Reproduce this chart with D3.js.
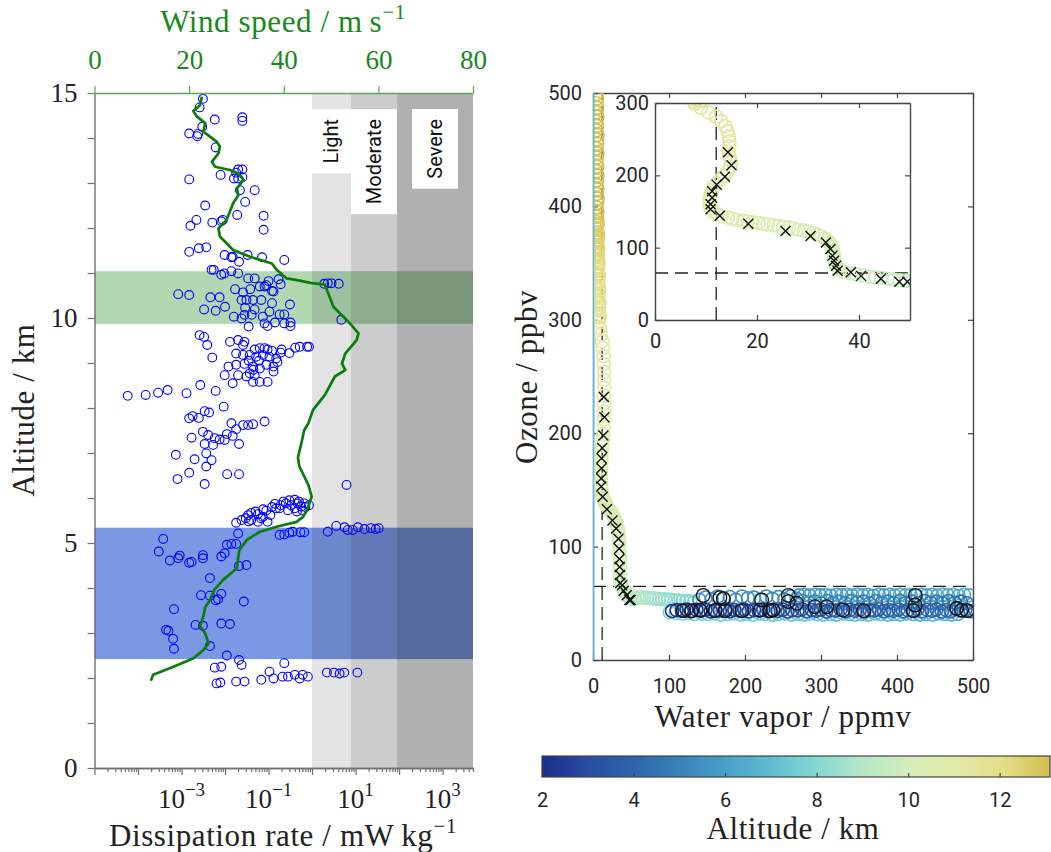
<!DOCTYPE html>
<html>
<head>
<meta charset="utf-8">
<script src="https://cdn.jsdelivr.net/npm/d3@7"></script>
<style>
  body { margin: 0; background: #fff; }
  svg { display: block; }
</style>
</head>
<body>
<svg id="chart" width="1051" height="852"></svg>
<script>
// ---------- left panel: dissipation rate + wind speed ----------
const windTicks = [0, 20, 40, 60, 80];
const altTicks = [0, 1, 2, 3, 4, 5, 6, 7, 8, 9, 10, 11, 12, 13, 14, 15];
const altLabelled = [0, 5, 10, 15];
const epsDecades = [1e-5, 1e-4, 1e-3, 1e-2, 1e-1, 1, 10, 100, 1000];
const epsLabelExp = [-3, -1, 1, 3];

const turbNames = ["Light", "Moderate", "Severe"];
const turbLo = [1, 7.8, 90];
const turbHi = [7.8, 90, 5000];

const layerNames = ["tropopause", "lower"];
const layerLo = [9.87, 2.42];
const layerHi = [11.04, 5.34];

// [wind speed m/s, altitude km]
const windProfile = [
  [11.9,1.94],[12.4,2.07],[16.7,2.25],[20.9,2.44],[23.0,2.62],[24.1,2.77],[23.4,2.99],[22.3,3.16],
  [23.0,3.36],[23.4,3.58],[24.4,3.73],[25.3,3.96],[27.2,4.18],[30.1,4.44],[30.4,4.7],[30.6,4.84],
  [32.2,5.07],[35.0,5.25],[38.5,5.36],[42.7,5.47],[44.1,5.58],[45.2,5.81],[45.9,6.03],[45.2,6.29],
  [43.3,6.7],[43.0,6.9],[43.4,7.07],[43.9,7.3],[44.3,7.5],[45.2,7.66],[46.2,7.96],[48.7,8.29],
  [50.8,8.7],[53.0,8.84],[52.3,8.99],[53.0,9.21],[55.4,9.51],[55.8,9.66],[54.0,9.88],[50.5,10.25],
  [49.4,10.55],[48.7,10.74],[45.6,10.78],[43.4,10.83],[40.6,10.88],[38.5,11.07],[37.5,11.21],[32.9,11.36],
  [29.3,11.51],[26.5,11.81],[26.2,11.99],[27.9,12.18],[28.6,12.36],[29.3,12.55],[30.4,12.73],[30.1,12.88],
  [31.5,13.07],[30.4,13.21],[28.6,13.29],[25.5,13.36],[24.8,13.47],[26.2,13.66],[26.5,13.81],[25.8,13.92],
  [23.0,14.14],[23.4,14.33],[21.6,14.48],[20.9,14.6],[22.3,14.73],[22.7,14.92]
];

// [dissipation rate mW/kg, altitude km]
const dissipation = [
  [3.1e-3,14.87],[2.6e-3,14.68],[5.8e-3,14.41],[0.025,14.46],[0.025,14.38],[1.5e-3,14.1],[2.4e-3,14.09],
  [2.3e-3,14.04],[3.0e-3,14.25],[6.1e-3,13.79],[1.5e-3,13.08],[7.9e-3,13.18],[0.02,13.3],[0.025,13.3],
  [0.018,13.23],[0.016,13.1],[0.02,13.1],[0.025,13.13],[0.022,12.84],[0.048,12.84],[0.029,12.58],
  [3.5e-3,12.5],[0.019,12.29],[0.077,12.27],[0.077,11.96],[2.2e-3,12.18],[1.6e-3,12.05],[5.1e-3,12.12],
  [8.2e-3,12.15],[8.9e-3,12.18],[1.5e-3,11.47],[2.5e-3,11.55],[3.7e-3,11.57],[9.8e-3,11.4],[0.014,11.35],
  [0.015,11.36],[0.021,11.25],[0.033,11.4],[0.071,11.35],[0.23,11.29],[4.9e-3,11.07],[5.5e-3,11.07],
  [8.2e-3,10.96],[9.6e-3,10.99],[0.014,11.04],[0.02,10.99],[0.034,10.88],[0.048,10.88],[0.1,10.82],
  [0.089,10.73],[0.17,10.86],[0.19,10.75],[8.4e-4,10.53],[1.5e-3,10.51],[4.6e-3,10.46],[7.5e-3,10.46],
  [0.017,10.64],[0.026,10.57],[0.038,10.64],[0.063,10.7],[0.081,10.7],[0.12,10.6],[0.13,10.59],
  [0.024,10.4],[0.031,10.4],[0.044,10.4],[0.068,10.4],[0.12,10.33],[0.31,10.3],[3.3e-3,10.19],
  [6.1e-3,10.16],[0.01,10.25],[0.029,10.23],[0.048,10.19],[0.105,10.14],[0.18,10.08],[0.23,10.08],
  [0.016,10.03],[0.024,9.99],[0.028,10.07],[0.041,10.07],[0.074,10.03],[0.081,9.88],[0.095,9.82],
  [0.14,9.9],[0.23,9.88],[0.32,9.9],[0.32,9.82],[0.035,9.81],[2.6e-3,9.62],[3.3e-3,9.58],[3.9e-3,9.4],
  [5.1e-3,9.12],[0.013,9.47],[0.02,9.51],[0.026,9.4],[0.028,9.47],[0.048,9.3],[0.063,9.33],[0.081,9.33],
  [0.095,9.3],[0.12,9.27],[0.2,9.3],[0.41,9.34],[0.77,9.36],[0.52,9.36],[0.018,9.21],[0.026,9.18],
  [0.037,9.18],[0.052,9.14],[0.074,9.18],[0.105,9.14],[0.19,9.23],[0.035,9.05],[0.06,9.05],[0.15,9.1],
  [0.3,9.22],[0.045,8.85],[0.16,9.02],[0.012,8.92],[0.018,8.96],[0.028,8.98],[0.044,8.92],[0.063,8.88],
  [0.089,8.96],[0.13,8.92],[9.8e-3,8.73],[0.02,8.73],[0.037,8.77],[0.048,8.73],[0.015,8.55],[0.031,8.7],
  [0.044,8.58],[0.063,8.58],[0.095,8.58],[0.13,8.81],[5.8e-5,8.27],[1.5e-4,8.29],[2.9e-4,8.34],
  [4.8e-4,8.4],[1.3e-3,8.33],[2.7e-3,8.51],[6.1e-3,8.38],[9.3e-3,8.03],[1.5e-3,7.77],[1.8e-3,7.82],
  [2.5e-3,7.78],[3.4e-3,7.93],[4.3e-3,7.9],[0.014,7.66],[0.018,7.53],[0.026,7.62],[0.034,7.62],
  [0.044,7.64],[0.081,7.7],[3.1e-3,7.47],[4.1e-3,7.4],[5.8e-3,7.33],[7.5e-3,7.3],[9.8e-3,7.29],
  [0.011,7.42],[0.015,7.38],[1.7e-3,7.34],[3.4e-3,7.2],[5.3e-3,7.18],[0.021,7.2],[7.4e-4,6.96],
  [3.7e-3,6.99],[2.0e-3,6.86],[4.9e-3,6.84],[3.7e-3,6.7],[8.1e-4,6.42],[1.5e-3,6.56],[3.4e-3,6.31],
  [0.0112,6.53],[0.021,6.53],[6.2,6.29],
  [0.018,5.45],[0.024,5.51],[0.034,5.62],[0.04,5.67],[0.057,5.64],[0.074,5.58],[0.095,5.47],[0.11,5.62],
  [0.15,5.77],[0.19,5.84],[0.25,5.88],[0.33,5.84],[0.4,5.96],[0.47,5.88],[0.56,5.81],[0.66,5.88],
  [0.85,5.84],[0.04,5.51],[0.057,5.47],[0.067,5.55],[0.089,5.72],[0.14,5.87],[0.18,5.77],[0.28,5.73],
  [0.4,5.77],[0.61,5.72],[0.03,5.55],[0.05,5.7],[0.075,5.75],[0.12,5.8],[0.22,5.92],[0.3,5.95],
  [0.5,5.92],[0.7,5.8],[0.45,5.7],[0.035,5.48],
  [0.18,5.18],[0.23,5.19],[0.3,5.23],[0.36,5.25],[0.54,5.24],[0.66,5.24],
  [2.3,5.25],[3.6,5.38],[5.6,5.35],[6.6,5.29],[8.6,5.29],[11.3,5.35],[16,5.31],[22.5,5.33],[29,5.31],[34,5.33],
  [3.8e-4,5.09],[3.0e-4,4.81],[5.4e-4,4.61],[8.4e-4,4.66],[9.1e-4,4.72],[1.5e-3,4.56],[1.7e-3,4.58],
  [3.1e-3,4.73],[3.1e-3,4.66],[8.2e-3,4.7],[9.8e-3,4.77],[0.011,4.96],[0.014,4.98],[0.018,4.98],
  [0.02,5.21],[0.021,4.49],[0.031,4.51],[4.5e-3,4.22],[2.8e-3,3.84],[4.5e-3,3.83],[6.1e-3,3.73],
  [6.9e-3,3.75],[8.2e-3,3.87],[0.027,3.7],[6.7e-4,3.53],[2.1e-3,3.18],[3.1e-3,3.16],[8.2e-3,3.21],
  [0.013,3.2],[4.4e-4,3.07],[5e-4,3.05],[6.4e-4,2.87],[6.7e-4,2.65],[4.5e-3,2.71],[0.011,2.5],
  [0.021,2.4],[0.024,2.29],[5.8e-3,2.23],[8.2e-3,2.25],[6.4e-3,1.88],[7.8e-3,1.9],[0.018,1.92],
  [0.028,1.92],[0.068,1.96],[0.105,2.14],[0.13,1.99],[0.21,2.03],[0.23,2.33],[0.28,2.03],[0.4,2.07],
  [0.52,1.99],[0.61,2.07],[0.8,2.03],[2.2,2.12],[3.2,2.12],[4.3,2.1],[5.5,2.12],[11,2.12],
  [1.9,10.76],[2.3,10.77],[2.8,10.77],[4.1,10.76],[4.7,9.96],[0.85,9.36]
];

// ---------- right panel: ozone vs water vapour, coloured by altitude ----------
const h2oTicks = [0, 100, 200, 300, 400, 500];
const o3Ticks = [0, 100, 200, 300, 400, 500];
const insetH2oTicks = [0, 20, 40];
const insetO3Ticks = [0, 100, 200, 300];
const cbarTicks = [2, 4, 6, 8, 10, 12];
const h2oThreshold = 12;
const o3Threshold = 65;

// [altitude km, water vapour ppmv, ozone ppbv]
const stratSamples = [
  [14.9,4.6,499],[14.83,5.1,495],[14.76,4.3,491],[14.69,5.4,487],[14.62,4.8,483],[14.55,5.6,479],
  [14.48,4.5,475],[14.41,5.2,471],[14.34,4.4,467],[14.27,5.7,463],[14.2,4.9,459],[14.13,5.3,455],
  [14.06,4.5,451],[13.99,5.8,447],[13.92,5.0,443],[13.85,4.7,439],[13.78,5.5,435],[13.71,4.9,431],
  [13.64,5.9,427],[13.57,5.2,423],[13.5,4.6,419],[13.43,5.6,415],[13.36,5.0,411],[13.29,6.0,407],
  [13.22,5.3,403],[13.15,4.8,399],[13.08,5.7,395],[13.01,5.1,391],[12.94,5.8,388]
];
const upperTropSamples = [
  [12.8,5.2,386],[12.77,6.1,384],[12.75,5.6,383],[12.72,4.6,381],[12.7,5.0,380],[12.65,5.8,377],
  [12.62,6.6,375],[12.6,5.4,374],[12.55,6.0,371],[12.52,4.9,369],[12.5,5.5,368],[12.45,6.1,365],
  [12.42,7.0,363],[12.4,5.7,362],[12.35,6.3,359],[12.32,5.1,357],[12.3,5.9,356],[12.25,6.4,353],
  [12.22,7.3,351],[12.2,6.0,350],[12.15,6.6,347],[12.12,5.4,345],[12.1,6.2,344],[12.05,6.8,341],
  [12.02,7.7,339],[12.0,6.4,338],[11.95,7.0,335],[11.92,5.9,333],[11.9,6.7,332],[11.85,7.2,329],
  [11.82,8.2,327],[11.8,6.9,326],[11.75,7.4,323],[11.72,6.3,321],[11.7,7.1,320],[11.65,7.6,317],
  [11.62,8.6,315],[11.6,7.3,314],[11.55,7.8,311],[11.52,6.8,309],[11.5,7.5,308],[11.45,8.0,305],
  [11.42,9.0,303],[11.4,7.7,302]
];
const tropopauseSamples = [
  [11.35,7.8,299],[11.32,9.0,293],[11.3,10.5,287],[11.27,12.0,281],[11.25,13.0,275],[11.22,13.8,268],
  [11.2,14.2,261],[11.18,14.5,254],[11.15,14.6,247],[11.12,14.6,240],[11.1,14.4,233],[11.08,14.6,226],
  [11.05,14.9,219],[11.03,14.8,212],[11.0,14.2,205],[10.98,13.5,199],[10.96,12.8,194],[10.94,12.0,189],
  [10.92,11.4,184],[10.9,11.1,179],[10.88,10.9,174],[10.86,10.8,169],[10.84,10.7,164],[10.82,10.8,159],
  [10.8,10.9,154],[10.78,11.3,150],[10.76,12.3,146],[10.74,13.1,143.5],[10.72,14.3,141.5],[10.7,15.2,140],
  [10.68,16.1,138.5],[10.66,17.3,137],[10.64,18.2,136],[10.62,19.1,135],[10.6,20.3,134],[10.58,21.2,133],
  [10.56,22.1,132],[10.54,23.3,131],[10.52,24.2,130],[10.5,25.1,129],[10.48,26.3,128],[10.46,27.2,126.5],
  [10.44,28.1,125],[10.42,29.2,123.5],[10.4,30.1,122],[10.38,31.0,120],[10.36,31.8,118],[10.34,32.6,115.5],
  [10.32,33.3,113],[10.3,33.8,110],[10.27,34.2,107],[10.24,34.5,104],[10.21,34.7,100],[10.18,34.9,96],
  [10.15,35.0,92],[10.12,35.1,88],[10.09,35.2,84],[10.06,35.3,80],[10.03,35.5,76],[10.0,35.8,72],
  [9.96,36.3,69],[9.92,37.2,66.5],[9.88,38.3,64.5],[9.84,39.5,63],[9.8,40.8,61.5],[9.75,42.0,60],
  [9.7,43.2,59],[9.65,44.4,58],[9.6,45.6,57],[9.55,46.8,56],[9.5,48.0,55],[9.45,49.2,54.5],[9.4,50.5,54]
];
const transitionSamples = [
  [9.35,52,54],[9.28,55,54.5],[9.2,58,55],[9.12,61,55],[9.05,64,55.5],[8.98,67,55],[8.9,71,55],
  [8.82,75,54.5],[8.75,79,54.5],[8.68,83,54],[8.6,87,54],[8.52,91,53.5],[8.45,95,53.5],[8.38,99,53],
  [8.3,103,53],[8.23,108,52.5],[8.16,113,52.5],[8.1,118,52],[8.04,123,52],[7.98,128,51.5],[7.93,133,51]
];
const cyanSamples = [
  [7.8,101,42],[7.77,109,41.5],[7.74,118,41],[7.71,126,41.5],[7.68,134,40.5],[7.65,143,41],[7.62,151,40.5],
  [7.59,160,41],[7.56,168,40],[7.53,177,40.5],[7.5,185,41],[7.47,194,40],[7.44,202,40.5],[7.41,210,40],
  [7.38,219,41],[7.35,227,40.5],[7.32,236,40],[7.29,244,40.5],[7.26,253,41],[7.23,261,40],[7.2,270,40.5],
  [7.17,278,40],[7.14,286,41],[7.11,295,40.5],[7.08,303,40],[7.05,312,40.5],[7.02,320,40],[6.99,329,41],
  [6.96,337,40.5],[6.93,345,40],[6.9,354,40.5],[6.87,362,40],[6.84,371,41],[6.81,379,40.5],[6.78,388,40],
  [6.75,396,40.5],[6.72,404,40],[6.69,413,41],[6.66,421,40.5],[6.63,430,40],[6.6,438,40.5],[6.57,447,40],
  [6.54,455,41],[6.51,463,40.5],[6.48,472,40],[6.45,480,40.5]
];
const ringSamples = [
  [6.42,495,57],[6.41,488,57.5],[6.39,481,56.5],[6.38,474,57.5],[6.36,467,57],[6.35,460,57.5],[6.33,453,56.8],
  [6.32,446,57.4],[6.3,439,57],[6.29,432,57.6],[6.27,425,56.7],[6.26,418,57.3],[6.24,411,57],[6.23,404,57.5],
  [6.21,397,56.8],[6.2,390,57.4],[6.18,383,57],[6.17,376,57.6],[6.15,369,56.7],[6.14,362,57.3],[6.12,355,57],
  [6.11,348,57.5],[6.09,341,56.8],[6.08,334,57.4],[6.06,327,57],[6.05,320,57.6],[6.03,313,56.7],[6.02,306,57.3],
  [6.0,299,57],[5.99,292,57.5],[5.97,285,56.8],[5.96,278,57.4],[5.94,271,57]
];
const midSamples = [
  [5.6,140,53],[5.58,148,55],[5.55,156,53.5],[5.53,164,56],[5.5,172,54],[5.48,180,55.5],[5.45,188,53],
  [5.43,196,56],[5.4,204,54.5],[5.38,212,55],[5.35,220,53],[5.33,228,56],[5.3,236,54],[5.28,244,55.5],
  [5.25,252,53.5],[5.23,260,56],[5.2,268,54],[5.17,276,52],[5.14,284,50.5],[5.11,292,51.5],[5.08,300,50],
  [5.05,308,52],[5.02,316,50.5],[4.99,324,51.5],[4.96,332,50],[4.93,340,52],[4.9,348,50.5],[4.87,356,51.5],
  [4.84,364,50],[4.81,372,52],[4.78,380,50.5],[4.75,388,51.5],[4.72,396,50],[4.69,404,52],[4.66,412,50.5],
  [4.63,420,51.5],[4.6,428,50],[4.57,436,52],[4.54,444,50.5],[4.51,452,51.5],[4.48,460,50],[4.45,468,52],
  [4.42,476,50.5],[4.39,484,51.5],[4.36,492,50]
];
const lowSamples = [
  [4.3,503,44],[4.26,497,43],[4.22,490,44.5],[4.18,484,43.5],[4.15,478,45],[4.11,471,43],[4.07,465,44],
  [4.04,459,42.8],[4.0,452,44.6],[3.96,446,43.4],[3.93,440,44.2],[3.89,433,43],[3.85,427,44.8],[3.82,421,43.5],
  [3.78,414,44],[3.74,408,42.9],[3.71,402,44.5],[3.67,395,43.3],[3.63,389,44.1],[3.6,383,43],[3.56,376,44.7],
  [3.52,370,43.6],[3.49,364,44],[3.45,357,42.8],[3.41,351,44.4],[3.38,345,43.3],[3.34,338,44.2],[3.3,332,43],
  [3.27,326,44.6],[3.23,319,43.5],[3.19,313,44],[3.16,307,42.9],[3.12,300,44.5],[3.08,294,43.4],[3.05,288,44.1],
  [3.01,281,43],[2.97,275,44.8],[2.94,269,43.6],[2.9,262,44],[2.86,256,42.8],[2.83,250,44.4],[2.79,243,43.2],
  [2.75,237,44.2],[2.72,231,43],[2.68,224,44.6],[2.64,218,43.5],[2.61,212,44],[2.57,205,42.9],[2.53,199,44.5],
  [2.5,193,43.4],[2.46,186,44.1],[2.42,180,43],[2.39,174,44.7],[2.35,167,43.6],[2.31,161,44],[2.28,155,42.8],
  [2.24,148,44.4],[2.2,142,43.3],[2.17,136,44.2],[2.13,129,43],[2.09,123,44.5],[2.06,117,43.5],[2.03,110,44],
  [2.0,104,43.2]
];
// turbulent samples inside the marked layers: [water vapour, ozone]
const crossMarks = [
  [14.3,232],[15.0,214],[13.7,198],[12.1,187],[11.2,178],[11.2,169],[10.9,160],[10.9,153],[12.7,144],
  [18.3,133],[25.6,123],[30.5,116],[33.5,107],[34.4,98],[34.8,89],[35.1,82],[35.5,75],[35.8,68],
  [38.4,66],[40.4,61],[44.3,57],[47.9,53],[49.5,53]
];
const ringMarks = [
  [119,43.5],[130,43.5],[141,44],[145,57],[160.5,43.5],[167,55],[171.5,54],[174,43.5],[196,43.5],
  [220,44],[222,53],[233,43.5],[237,44],[257,57],[257,51.5],[268,50],[292,47],[307.5,47],[329,44],
  [356,43.5],[424,57],[424,48.5],[421.5,43.5],[478.5,45.6],[485,44],[492,43.5]
];
const edgeTrace = [[0.3, 0], [0.3, 500]];

// colour map for altitude
const cmapKnots = [2, 3, 4, 5, 6, 7, 8, 9, 10, 11, 12, 13.1];
const cmapColors = ["#1d2d8e","#294ca0","#2e64ab","#3782b9","#46a0c8","#5fbed2",
                    "#85d8d2","#b6e7c8","#d4ecbc","#e2eaa8","#e4df8a","#d3bf4f"];
const altColor = d3.scaleLinear().domain(cmapKnots).range(cmapColors).clamp(true);

const serif = "'Liberation Serif', 'Times New Roman', serif";
const sans = "Roboto, 'Liberation Sans', Arial, sans-serif";
const titleSize = 31, titleSpacing = 0.6;

const svg = d3.select("#chart");
const defs = svg.append("defs");

function styleAxis(g, color, font, size, textColor) {
  g.attr("font-family", font).attr("font-size", size);
  g.select(".domain").attr("stroke", color).attr("stroke-width", 1.4);
  g.selectAll(".tick line").attr("stroke", color).attr("stroke-width", 1.2);
  g.selectAll(".tick text").attr("fill", textColor);
}

function title(parent, txt, sup, color) {
  const t = parent.append("text").attr("text-anchor", "middle")
    .attr("font-family", serif).attr("font-size", titleSize)
    .attr("letter-spacing", titleSpacing).attr("fill", color);
  t.append("tspan").text(txt);
  if (sup) t.append("tspan").text(sup).attr("font-size", 21).attr("dy", -13);
  return t;
}

// ================= LEFT PANEL =================
const xEps = d3.scaleLog().domain([1e-5, 5e3]).range([94.5, 473]);
const xWind = d3.scaleLinear().domain([0, 80]).range([94.5, 473]);
const yAlt = d3.scaleLinear().domain([0, 15]).range([768, 93]);

const left = svg.append("g");
const layerFill = ["#b2d8b2", "#7b98e4"];
left.selectAll("rect.layer").data(layerNames).join("rect")
  .attr("class", "layer")
  .attr("x", xEps(1e-5)).attr("width", xEps(5e3) - xEps(1e-5))
  .attr("y", (d, i) => yAlt(layerHi[i]))
  .attr("height", (d, i) => yAlt(layerLo[i]) - yAlt(layerHi[i]))
  .attr("fill", (d, i) => layerFill[i]);

const turbOpacity = [0.11, 0.2, 0.31];
left.selectAll("rect.turb").data(turbNames).join("rect")
  .attr("class", "turb")
  .attr("x", (d, i) => xEps(turbLo[i]))
  .attr("width", (d, i) => xEps(turbHi[i]) - xEps(turbLo[i]))
  .attr("y", yAlt(15)).attr("height", yAlt(0) - yAlt(15))
  .attr("fill", "#000").attr("fill-opacity", (d, i) => turbOpacity[i]);

// white label boxes with vertical text
turbNames.forEach((name, i) => {
  const x0 = xEps(turbLo[i]), x1 = xEps(turbHi[i]);
  const cx = (x0 + x1) / 2;
  const g = left.append("g");
  const box = g.append("rect").attr("fill", "#fff");
  const t = g.append("text").text(name)
    .attr("font-family", sans).attr("font-size", 20).attr("fill", "#111")
    .attr("text-anchor", "middle").attr("dy", "0.35em");
  const len = t.node().getComputedTextLength();
  const w = Math.min(x1 - x0, 46), h = len + 20, top = yAlt(15) + 16;
  box.attr("x", cx - w / 2).attr("y", top).attr("width", w).attr("height", h);
  t.attr("transform", `translate(${cx},${top + h / 2}) rotate(-90)`);
});

left.append("g").selectAll("circle").data(dissipation).join("circle")
  .attr("cx", d => xEps(d[0])).attr("cy", d => yAlt(d[1])).attr("r", 4.4)
  .attr("fill", "none").attr("stroke", "#0000ff").attr("stroke-width", 1.1);

left.append("path").datum(windProfile)
  .attr("d", d3.line().x(d => xWind(d[0])).y(d => yAlt(d[1])))
  .attr("fill", "none").attr("stroke", "#0b7d0b").attr("stroke-width", 2.7)
  .attr("stroke-linejoin", "round");

// left axis
const yAxisL = left.append("g").attr("transform", `translate(${xEps(1e-5)},0)`)
  .call(d3.axisLeft(yAlt).tickValues(altTicks)
    .tickFormat(d => altLabelled.includes(d) ? d : "")
    .tickSize(7).tickSizeOuter(0).tickPadding(10));
styleAxis(yAxisL, "#707070", serif, 27, "#222");

// bottom log axis: minor + major ticks
const epsMinor = xEps.ticks().filter(v => !epsDecades.includes(v));
const xMinor = left.append("g").attr("transform", `translate(0,${yAlt(0)})`)
  .call(d3.axisBottom(xEps).tickValues(epsMinor).tickFormat("").tickSize(4).tickSizeOuter(0));
styleAxis(xMinor, "#707070", serif, 25, "#222");
const xMajor = left.append("g").attr("transform", `translate(0,${yAlt(0)})`)
  .call(d3.axisBottom(xEps).tickValues(epsDecades).tickFormat("").tickSize(7).tickSizeOuter(0));
styleAxis(xMajor, "#707070", serif, 25, "#222");
epsLabelExp.forEach(e => {
  const t = left.append("text").attr("x", xEps(Math.pow(10, e))).attr("y", 808)
    .attr("text-anchor", "middle").attr("font-family", serif).attr("font-size", 27).attr("fill", "#222");
  t.append("tspan").text("10");
  t.append("tspan").text(e < 0 ? "\u2212" + (-e) : String(e)).attr("font-size", 19).attr("dy", -12);
});

// top wind axis
const xTop = left.append("g").attr("transform", `translate(0,${yAlt(15)})`)
  .call(d3.axisTop(xWind).tickValues(windTicks).tickSize(7).tickSizeOuter(0).tickPadding(17));
styleAxis(xTop, "#55aa55", serif, 27, "#18891a");

// titles
title(left, "Wind speed / m\u2009s", "\u22121", "#18891a").attr("x", 283).attr("y", 32);
title(left, "Dissipation rate / mW\u2009kg", "\u22121", "#222").attr("x", 283).attr("y", 846);
title(left, "Altitude / km", null, "#222").attr("transform", "translate(34,410) rotate(-90)");

// ================= RIGHT PANEL =================
const xWv = d3.scaleLinear().domain([0, 500]).range([593, 973]);
const yO3 = d3.scaleLinear().domain([0, 500]).range([660, 93]);
const samples = stratSamples.concat(upperTropSamples, tropopauseSamples, transitionSamples,
  cyanSamples, ringSamples, midSamples, lowSamples);

function drawProfile(g, xs, ys, clipId, withEdge) {
  const [x0, x1] = xs.range(), [y0, y1] = ys.range();
  defs.append("clipPath").attr("id", clipId).append("rect")
    .attr("x", x0).attr("y", y1).attr("width", x1 - x0).attr("height", y0 - y1);
  const c = g.append("g").attr("clip-path", `url(#${clipId})`);
  c.append("line")
    .attr("x1", xs(xs.domain()[0])).attr("x2", xs(xs.domain()[1]))
    .attr("y1", ys(o3Threshold)).attr("y2", ys(o3Threshold))
    .attr("stroke", "#222").attr("stroke-width", 1.3).attr("stroke-dasharray", "13,7");
  c.append("line")
    .attr("x1", xs(h2oThreshold)).attr("x2", xs(h2oThreshold))
    .attr("y1", ys(ys.domain()[0])).attr("y2", ys(ys.domain()[1]))
    .attr("stroke", "#222").attr("stroke-width", 1.3).attr("stroke-dasharray", "13,7");
  c.append("g").selectAll("circle").data(samples).join("circle")
    .attr("cx", d => xs(d[1])).attr("cy", d => ys(d[2])).attr("r", 6.5)
    .attr("fill", "none").attr("stroke", d => altColor(d[0])).attr("stroke-width", 1.6);
  c.append("g").selectAll("path").data(crossMarks).join("path")
    .attr("transform", d => `translate(${xs(d[0])},${ys(d[1])})`)
    .attr("d", "M-5,-5L5,5M-5,5L5,-5")
    .attr("stroke", "#111").attr("stroke-width", 1.4).attr("fill", "none");
  c.append("g").selectAll("circle").data(ringMarks).join("circle")
    .attr("cx", d => xs(d[0])).attr("cy", d => ys(d[1])).attr("r", 6.8)
    .attr("fill", "none").attr("stroke", "#111").attr("stroke-width", 1.3);
  if (withEdge) {
    c.append("path").datum(edgeTrace)
      .attr("d", d3.line().x(d => xs(d[0])).y(d => ys(d[1])))
      .attr("stroke", "#4dbeee").attr("stroke-width", 2).attr("fill", "none");
  }
}

function drawFrame(g, xs, ys, xt, yt, padX, padY) {
  const [x0, x1] = xs.range(), [y0, y1] = ys.range();
  const bx = g.append("g").attr("transform", `translate(0,${y0})`)
    .call(d3.axisBottom(xs).tickValues(xt).tickSize(-5).tickSizeOuter(0).tickPadding(padX));
  styleAxis(bx, "#444", sans, 20, "#262626");
  const tx = g.append("g").attr("transform", `translate(0,${y1})`)
    .call(d3.axisTop(xs).tickValues(xt).tickFormat("").tickSize(-5).tickSizeOuter(0));
  styleAxis(tx, "#444", sans, 20, "#262626");
  const ly = g.append("g").attr("transform", `translate(${x0},0)`)
    .call(d3.axisLeft(ys).tickValues(yt).tickSize(-5).tickSizeOuter(0).tickPadding(padY));
  styleAxis(ly, "#444", sans, 20, "#262626");
  const ry = g.append("g").attr("transform", `translate(${x1},0)`)
    .call(d3.axisRight(ys).tickValues(yt).tickFormat("").tickSize(-5).tickSizeOuter(0));
  styleAxis(ry, "#444", sans, 20, "#262626");
}

const right = svg.append("g");
drawFrame(right, xWv, yO3, h2oTicks, o3Ticks, 19, 11);
drawProfile(right, xWv, yO3, "clipMain", true);

// inset
const xIn = d3.scaleLinear().domain([0, 50]).range([655, 910]);
const yIn = d3.scaleLinear().domain([0, 300]).range([320, 103]);
const inset = svg.append("g");
inset.append("rect").attr("x", 655).attr("y", 103).attr("width", 255).attr("height", 217).attr("fill", "#fff");
drawProfile(inset, xIn, yIn, "clipInset", false);
drawFrame(inset, xIn, yIn, insetH2oTicks, insetO3Ticks, 14, 6);

title(right, "Water vapor / ppmv", null, "#222").attr("x", 783).attr("y", 727);
title(right, "Ozone / ppbv", null, "#222").attr("transform", "translate(537,377) rotate(-90)");

// colour bar
const xC = d3.scaleLinear().domain([2, 13.1]).range([542, 1050]);
const grad = defs.append("linearGradient").attr("id", "cbarGrad")
  .attr("x1", "0%").attr("x2", "100%").attr("y1", "0%").attr("y2", "0%");
cmapKnots.forEach((k, i) => grad.append("stop")
  .attr("offset", (xC(k) - xC(2)) / (xC(13.1) - xC(2))).attr("stop-color", cmapColors[i]));
svg.append("rect").attr("x", xC(2)).attr("y", 756).attr("width", xC(13.1) - xC(2)).attr("height", 21)
  .attr("fill", "url(#cbarGrad)").attr("stroke", "#444").attr("stroke-width", 1.2);
const cAx = svg.append("g").attr("transform", "translate(0,777)")
  .call(d3.axisBottom(xC).tickValues(cbarTicks).tickSize(-4).tickSizeOuter(0).tickPadding(16));
styleAxis(cAx, "#444", sans, 20, "#262626");
cAx.select(".domain").remove();
title(svg, "Altitude / km", null, "#222").attr("x", 793).attr("y", 839);
</script>
</body>
</html>
